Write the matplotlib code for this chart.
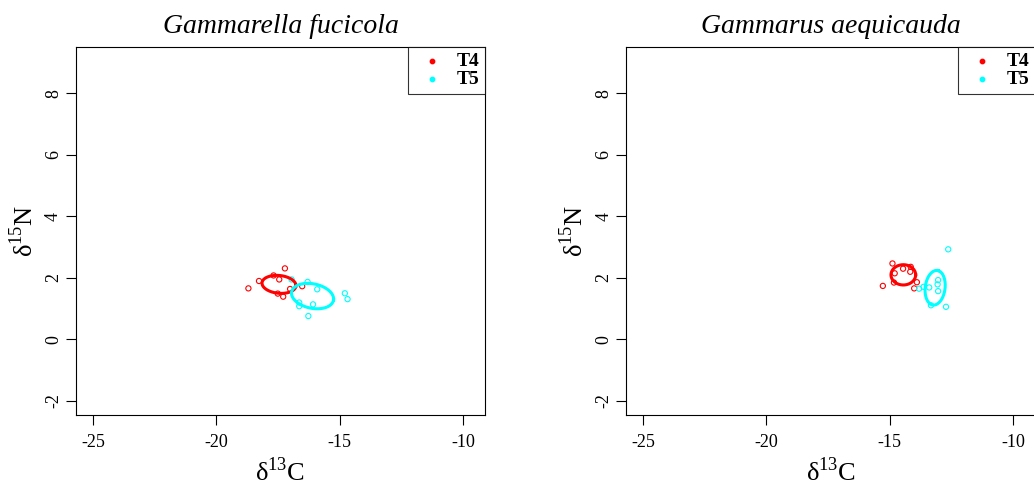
import numpy as np
import matplotlib.pyplot as plt

plt.rcParams['font.family'] = ['Liberation Serif', 'DejaVu Serif']
plt.rcParams['mathtext.fontset'] = 'custom'
plt.rcParams['mathtext.rm'] = 'Liberation Serif'
plt.rcParams['axes.unicode_minus'] = False

titles = ["Gammarella fucicola", "Gammarus aequicauda"]
groups = ["T4", "T5"]
colors = ["red", "cyan"]

# Gammarella fucicola
gf_t4_x = [-18.70, -18.27, -17.68, -17.22, -17.45, -17.51, -17.29, -17.01, -16.52]
gf_t4_y = [1.65, 1.89, 2.07, 2.30, 1.94, 1.48, 1.38, 1.63, 1.72]
gf_t5_x = [-16.30, -15.91, -14.79, -14.68, -16.64, -16.64, -16.08, -16.27, -16.95]
gf_t5_y = [1.86, 1.62, 1.49, 1.30, 1.19, 1.07, 1.13, 0.75, 1.94]

# Gammarus aequicauda
ga_t4_x = [-14.89, -14.80, -14.46, -14.15, -14.17, -13.90, -14.01, -15.28, -14.83]
ga_t4_y = [2.46, 2.14, 2.29, 2.35, 2.19, 1.85, 1.65, 1.73, 1.84]
ga_t5_x = [-12.63, -13.81, -13.63, -13.40, -13.04, -13.06, -13.04, -13.33, -12.72]
ga_t5_y = [2.92, 1.64, 1.70, 1.68, 1.92, 1.78, 1.56, 1.10, 1.05]

# standard ellipses: centre x, centre y, semi-axis a, semi-axis b, angle (deg)
gf_ell = [(-17.46, 1.78, 0.69, 0.29, -4), (-16.10, 1.40, 0.86, 0.40, -8)]
ga_ell = [(-14.45, 2.09, 0.50, 0.33, 0), (-13.16, 1.67, 0.57, 0.40, 78)]

panels = [
    (titles[0], [(gf_t4_x, gf_t4_y), (gf_t5_x, gf_t5_y)], gf_ell),
    (titles[1], [(ga_t4_x, ga_t4_y), (ga_t5_x, ga_t5_y)], ga_ell),
]

fig = plt.figure(figsize=(10.34, 4.9), dpi=100)
boxes = [[0.0735, 0.153, 0.3955, 0.751], [0.6055, 0.153, 0.3955, 0.751]]

t = np.linspace(0, 2 * np.pi, 200)
for box, (title, pts, ells) in zip(boxes, panels):
    ax = fig.add_axes(box)
    for (xs, ys), c in zip(pts, colors):
        ax.scatter(xs, ys, s=14, facecolors='none', edgecolors=c, linewidths=0.8)
    for (cx, cy, a, b, ang), c in zip(ells, colors):
        th = np.radians(ang)
        ex = cx + a * np.cos(t) * np.cos(th) - b * np.sin(t) * np.sin(th)
        ey = cy + a * np.cos(t) * np.sin(th) + b * np.sin(t) * np.cos(th)
        ax.plot(ex, ey, color=c, lw=2.2)
    ax.set_xlim(-25.69, -9.11)
    ax.set_ylim(-2.47, 9.5)
    ax.set_xticks([-25, -20, -15, -10])
    ax.set_yticks([-2, 0, 2, 4, 6, 8])
    ax.tick_params(labelsize=13, length=7, width=0.8)
    ax.tick_params(axis='x', pad=7)
    ax.tick_params(axis='y', pad=3)
    for lab in ax.get_yticklabels():
        lab.set_rotation(90)
        lab.set_va('center')
    ax.set_xlabel('δ$^{13}$C', fontsize=19, labelpad=4)
    ax.set_ylabel('δ$^{15}$N', fontsize=19, labelpad=5)
    ax.set_title(title, fontsize=20, style='italic', pad=10)
    for sp in ax.spines.values():
        sp.set_linewidth(0.8)
    handles = [ax.scatter([], [], s=10, color=c) for c in colors]
    leg = ax.legend(handles, groups, loc='upper right', frameon=True, fancybox=False,
                    borderaxespad=0, handletextpad=0.3, borderpad=0.3,
                    labelspacing=0.0, handlelength=1.9,
                    prop={'weight': 'bold', 'size': 14})
    leg.get_frame().set_edgecolor('black')
    leg.get_frame().set_linewidth(0.8)

fig.savefig('out.png', dpi=100)
